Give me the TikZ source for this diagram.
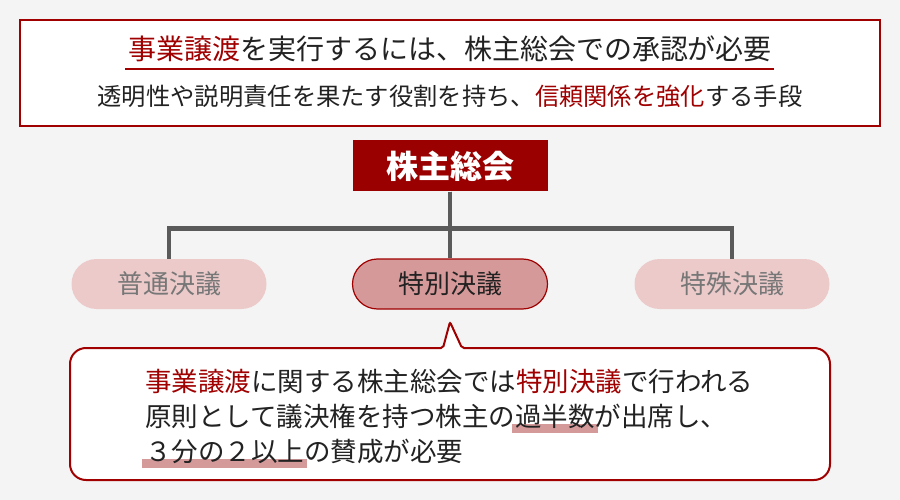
\documentclass[tikz,border=0pt]{standalone}
\usepackage{fontspec}
\setmainfont{Noto Sans CJK JP}
\usetikzlibrary{shapes.misc}
\definecolor{bg}{HTML}{F4F4F4}
\definecolor{accent}{HTML}{A00000}
\definecolor{rootfill}{HTML}{9A0000}
\definecolor{pale}{HTML}{ECCACA}
\definecolor{midpink}{HTML}{D69999}
\definecolor{txt}{HTML}{222222}
\definecolor{graytxt}{HTML}{777777}
\definecolor{treeline}{HTML}{5A5A5A}
\definecolor{hl}{HTML}{D49A9A}
\newcommand{\hlbar}[1]{\setbox0\hbox{#1}\rlap{\hspace{-3pt}\color{hl}\raisebox{-7pt}{\rule{\dimexpr\wd0+6pt\relax}{9pt}}}#1}
\tikzset{
  pill/.style={rounded rectangle, minimum width=195pt, minimum height=50pt, inner sep=0pt, font=\fontsize{26}{32}\selectfont},
  pillpale/.style={pill, fill=pale, text=graytxt},
  pillmain/.style={pill, fill=midpink, draw=accent, line width=1.2pt, text=txt},
  tree/.style={draw=treeline, line width=4.5pt},
  bodytext/.style={anchor=base west, inner sep=0pt, font=\fontsize{26.5}{32}\selectfont, text=txt}
}
\begin{document}
\begin{tikzpicture}[x=1pt,y=-1pt]
\fill[bg] (0,0) rectangle (900,500);
\useasboundingbox (0,0) rectangle (900,500);
% top box
\node[draw=accent, line width=2.5pt, fill=white, minimum width=860pt, minimum height=106pt, inner sep=0pt] (topbox) at (450,73) {};
\node[font=\fontsize{28}{34}\selectfont, text=txt, inner sep=0pt] (title) at (450,49) {{\color{accent}事業譲渡}を実行するには、株主総会での承認が必要};
\coordinate (ulA) at (125,69);
\coordinate (ulB) at (774,69);
\draw[accent, line width=2pt] (ulA) -- (ulB);
\node[font=\fontsize{24.3}{30}\selectfont, text=txt, inner sep=0pt] (sub) at (450,96) {透明性や説明責任を果たす役割を持ち、{\color{accent}信頼関係を強化}する手段};
% tree
\node[fill=rootfill, minimum width=195pt, minimum height=51pt, inner sep=0pt, text=white, font=\bfseries\fontsize{32}{38}\selectfont] (root) at (450,166) {株主総会};
\node[pillpale] (c1) at (169,284) {普通決議};
\node[pillmain] (c2) at (450,284) {特別決議};
\node[pillpale] (c3) at (732,284) {特殊決議};
\draw[tree] (root.south) -- ++(0,37) -| (c1.north);
\draw[tree] (root.south) -- ++(0,37) -| (c3.north);
\draw[tree] (root.south) -- (c2.north);
% callout
\draw[accent, line width=2pt, fill=white] (443,348) [rounded corners=16pt] -- (70,348) -- (70,480) -- (830,480) -- (830,348) [rounded corners=2pt] -- (462,348) -- (450,322) -- cycle;
\node[bodytext] (l1) at (145,391) {{\color{accent}事業譲渡}に関する株主総会では{\color{accent}特別決議}で行われる};
\node[bodytext] (l2) at (145,426) {原則として議決権を持つ株主の\hlbar{過半数}が出席し、};
\node[bodytext] (l3) at (145,461) {\hlbar{３分の２以上}の賛成が必要};
\end{tikzpicture}
\end{document}
